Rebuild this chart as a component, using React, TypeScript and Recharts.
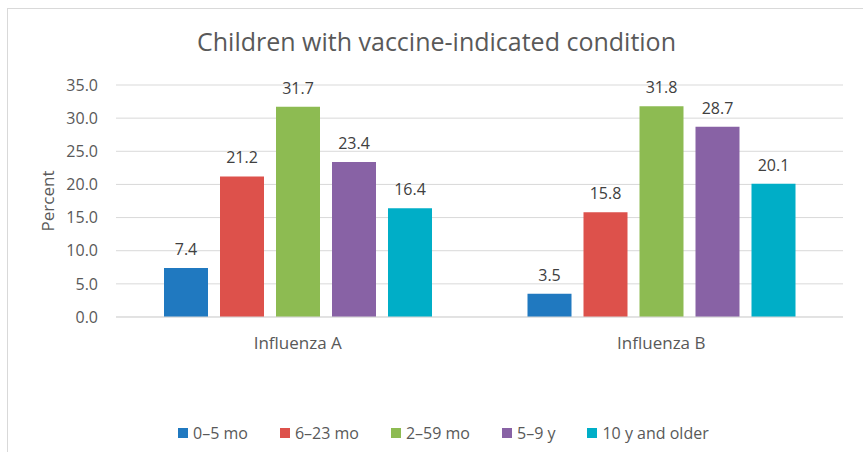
import React from "react";
import {
  BarChart,
  Bar,
  XAxis,
  YAxis,
  CartesianGrid,
  Legend,
  LabelList,
} from "recharts";

const categories = ["Influenza A", "Influenza B"];
const groups = ["0–5 mo", "6–23 mo", "2–59 mo", "5–9 y", "10 y and older"];
const groupColors = ["#2079C0", "#DD514B", "#8DBB52", "#8862A5", "#00AEC7"];
const age0to5 = [7.4, 3.5];
const age6to23 = [21.2, 15.8];
const age2to59 = [31.7, 31.8];
const age5to9 = [23.4, 28.7];
const age10plus = [16.4, 20.1];
const yTicks = [0, 5, 10, 15, 20, 25, 30, 35];

const seriesValues = [age0to5, age6to23, age2to59, age5to9, age10plus];

const chartData = categories.map((name, i) => {
  const row: { [key: string]: string | number } = { name };
  groups.forEach((g, j) => {
    row[g] = seriesValues[j][i];
  });
  return row;
});

const FONT = "'Open Sans', 'Noto Sans', sans-serif";
const TEXT = "#595959";

// legend drawn in the series order, not sorted
const renderLegend = () => {
  return (
    <div
      style={{
        display: "flex",
        paddingLeft: 178,
        fontFamily: FONT,
        fontSize: 16,
        color: TEXT,
        alignItems: "center",
      }}
    >
      {groups.map((g, index) => (
        <div
          key={`legend-${index}`}
          style={{ display: "flex", alignItems: "center", marginRight: 32 }}
        >
          <span
            style={{
              width: 10,
              height: 10,
              background: groupColors[index],
              display: "inline-block",
              marginRight: 5,
            }}
          />
          <span>{g}</span>
        </div>
      ))}
    </div>
  );
};

const App = () => {
  return (
    <div
      style={{
        position: "absolute",
        left: 0,
        top: 0,
        width: 863,
        height: 452,
        background: "#fff",
        overflow: "hidden",
      }}
    >
      <div
        style={{
          position: "absolute",
          left: 7,
          top: 8,
          width: 900,
          height: 500,
          border: "1px solid #D9D9D9",
        }}
      />
      <div
        style={{
          position: "absolute",
          left: 0,
          width: 863,
          top: 24,
          textAlign: "center",
          fontFamily: FONT,
          fontSize: 25,
          color: TEXT,
          paddingLeft: 10,
          boxSizing: "border-box",
        }}
      >
        Children with vaccine-indicated condition
      </div>
      <div style={{ position: "absolute", left: 0, top: 0 }}>
        <BarChart
          width={863}
          height={452}
          data={chartData}
          margin={{ top: 85, right: 20, left: 0, bottom: 105 }}
          barCategoryGap={48}
          barGap={12}
        >
          <CartesianGrid vertical={false} stroke="#D9D9D9" />
          <XAxis
            dataKey="name"
            axisLine={{ stroke: "#D9D9D9" }}
            tickLine={false}
            tickSize={0}
            tickMargin={20}
            height={30}
            tick={{ fill: TEXT, fontSize: 17, fontFamily: FONT }}
          />
          <YAxis
            width={116}
            domain={[0, 35]}
            ticks={yTicks}
            tickFormatter={(v: number) => v.toFixed(1)}
            axisLine={false}
            tickLine={false}
            tickSize={0}
            tickMargin={18}
            tick={{ fill: TEXT, fontSize: 16, fontFamily: FONT }}
            label={{
              value: "Percent",
              angle: -90,
              position: "insideLeft",
              offset: 48,
              style: {
                textAnchor: "middle",
                fill: TEXT,
                fontSize: 17,
                fontFamily: FONT,
              },
            }}
          />
          <Legend
            layout="horizontal"
            verticalAlign="middle"
            align="center"
            wrapperStyle={{ top: 422, left: 0, width: 863 }}
            content={renderLegend}
          />
          {groups.map((g, i) => (
            <Bar
              key={g}
              dataKey={g}
              fill={groupColors[i]}
              isAnimationActive={false}
            >
              <LabelList
                dataKey={g}
                position="top"
                offset={13}
                formatter={(v: any) => Number(v).toFixed(1)}
                style={{ fill: "#404040", fontSize: 16, fontFamily: FONT }}
              />
            </Bar>
          ))}
        </BarChart>
      </div>
    </div>
  );
};

export default App;
